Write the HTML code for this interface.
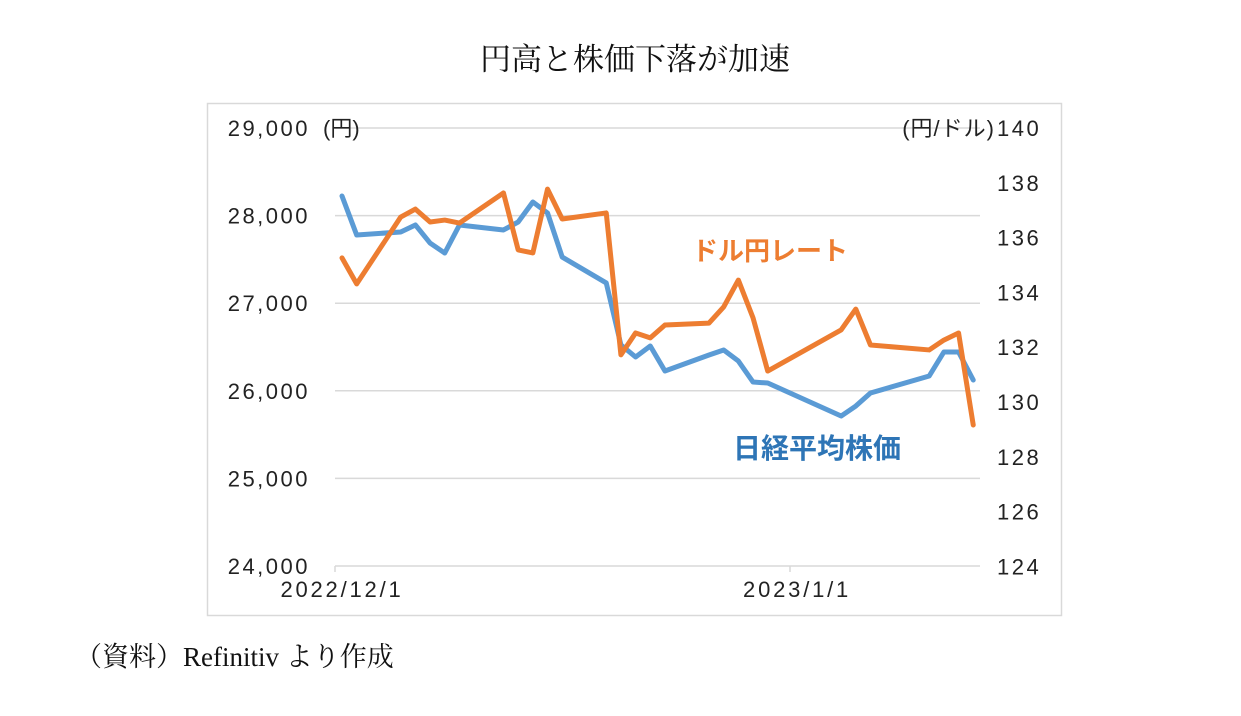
<!DOCTYPE html>
<html><head><meta charset="utf-8"><style>
body{margin:0;width:1241px;height:716px;background:#fff;overflow:hidden}
svg{display:block}
</style></head><body>
<svg width="1241" height="716" xmlns="http://www.w3.org/2000/svg">
<text x="635" y="70" text-anchor="middle" font-family="'Liberation Serif','Noto Serif CJK SC',serif" font-size="31" fill="#111">円高と株価下落が加速</text>
<rect x="207.5" y="103.5" width="854" height="512" fill="none" stroke="#d9d9d9" stroke-width="1.5"/>
<g id="grid"></g>
<g id="axes"></g>
<g id="series"></g>
<text x="692" y="260" font-family="'Liberation Sans','Noto Sans CJK JP',sans-serif" font-size="26" fill="#ED7D31" font-weight="bold">ドル円レート</text>
<text x="733" y="458" font-family="'Liberation Sans','Noto Sans CJK JP',sans-serif" font-size="28" fill="#2E75B6" font-weight="bold">日経平均株価</text>
<text x="75" y="666" font-family="'Liberation Serif','Noto Serif CJK SC',serif" font-size="27" fill="#111">（資料）Refinitiv より作成</text>
</svg>
<script>
const dayOffsets=[0,1,4,5,6,7,8,11,12,13,14,15,18,19,20,21,22,25,26,27,28,29,34,35,36,40,41,42,43];
const nikkei=[28224,27779,27813,27893,27687,27573,27893,27836,27927,28155,28030,27527,27231,26523,26386,26511,26226,26409,26466,26340,26100,26089,25712,25826,25975,26169,26443,26443,26123];
const usdjpy=[135.26,134.31,136.75,137.04,136.57,136.64,136.53,137.63,135.55,135.44,137.77,136.68,136.90,131.72,132.52,132.34,132.81,132.88,133.47,134.45,133.07,131.13,132.63,133.39,132.08,131.90,132.26,132.52,129.16];
const leftTicks=[24000,25000,26000,27000,28000,29000];
const leftTickLabels=["24,000","25,000","26,000","27,000","28,000","29,000"];
const rightTicks=[124,126,128,130,132,134,136,138,140];
const xLabels=[{d:0,t:"2022/12/1"},{d:31,t:"2023/1/1"}];
const NS="http://www.w3.org/2000/svg";
const xS=d=>342+d*14.68;
const yL=v=>128+(29000-v)/1000*87.6;
const yR=v=>128+(140-v)*27.4;
const F="'Liberation Sans','Noto Sans CJK JP',sans-serif";
function mk(tag,attrs,parent,txt){const e=document.createElementNS(NS,tag);for(const k in attrs)e.setAttribute(k,attrs[k]);if(txt!==undefined)e.textContent=txt;document.getElementById(parent).appendChild(e);return e;}
leftTicks.forEach((v,i)=>{
  const g=mk('line',{x1:335,x2:980,y1:yL(v),y2:yL(v),stroke:'#d9d9d9','stroke-width':1.5},'grid');
  
  
  const t=mk('text',{x:310,y:yL(v)+8,'text-anchor':'end','font-family':F,'font-size':22,'letter-spacing':2.5,fill:'#222'},'axes',leftTickLabels[i]);
  
  
});
const u1=mk('text',{x:323,y:yL(29000)+8,'font-family':F,'font-size':22,fill:'#222'},'axes','(円)');


rightTicks.forEach(v=>{
  const t=mk('text',{x:997,y:yR(v)+8,'font-family':F,'font-size':22,'letter-spacing':2.5,fill:'#222'},'axes',String(v));
  
  
});
const u2=mk('text',{x:995,y:yR(140)+8,'text-anchor':'end','font-family':F,'font-size':22,'letter-spacing':1,fill:'#222'},'axes','(円/ドル)');


[335,790].forEach(x=>{
  const tk=mk('line',{x1:x,x2:x,y1:566,y2:572,stroke:'#d9d9d9','stroke-width':1.5},'axes');
  
  
});
xLabels.forEach(o=>{
  const t=mk('text',{x:xS(o.d),y:597,'text-anchor':'middle','font-family':F,'font-size':22,'letter-spacing':2.8,fill:'#222'},'axes',o.t);
  
  
});
const pb=mk('polyline',{points:dayOffsets.map((d,i)=>xS(d)+','+yL(nikkei[i])).join(' '),fill:'none',stroke:'#5B9BD5','stroke-width':5,'stroke-linejoin':'round','stroke-linecap':'round'},'series');


const po=mk('polyline',{points:dayOffsets.map((d,i)=>xS(d)+','+yR(usdjpy[i])).join(' '),fill:'none',stroke:'#ED7D31','stroke-width':5,'stroke-linejoin':'round','stroke-linecap':'round'},'series');


</script>
</body></html>
